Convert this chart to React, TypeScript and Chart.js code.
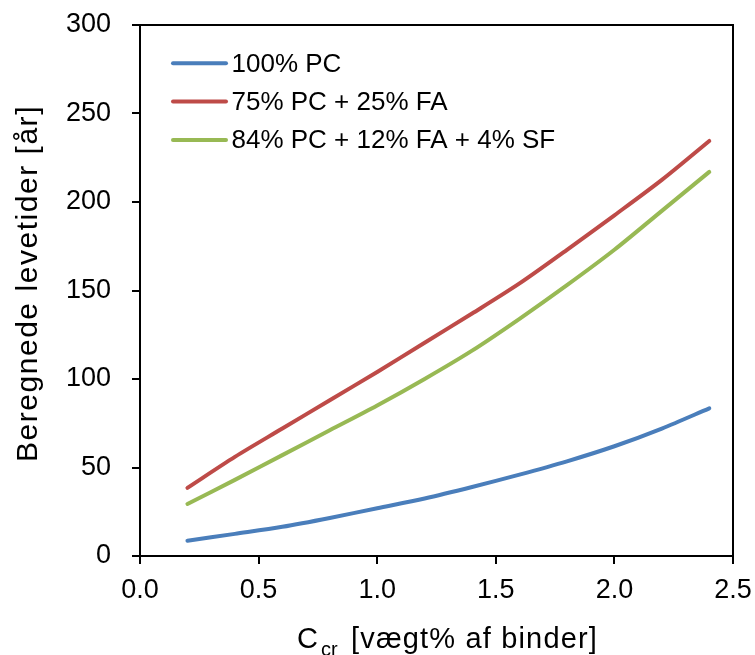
import React, { useEffect, useRef } from "react";
import { Chart, registerables } from "chart.js";

Chart.register(...registerables);

const FONT = '"Liberation Sans", Arial, Helvetica, sans-serif';

// Data
const xValues = [0.2, 0.4, 0.6, 0.8, 1.0, 1.2, 1.4, 1.6, 1.8, 2.0, 2.2, 2.4];
const pc100 = [8.6, 12.5, 16.5, 21.5, 27, 32.5, 39, 46, 53.5, 62, 72, 83.4];
const pc75fa25 = [38.5, 56, 72, 88, 104, 120.5, 137, 154, 173, 192.5, 212.5, 234.5];
const pc84fa12sf4 = [29.4, 43, 57, 71, 85, 100, 116, 134, 153, 173, 195, 217];
const seriesLabels = ["100% PC", "75% PC + 25% FA", "84% PC + 12% FA + 4% SF"];
const seriesColors = ["#4A7EBB", "#BE4B48", "#98B954"];
const yTitle = "Beregnede levetider [år]";
const xTitleMain = "C";
const xTitleSub = "cr";
const xTitleRest = "[vægt% af binder]";

const toPoints = (ys: number[]) => xValues.map((x, i) => ({ x, y: ys[i] }));

const framePlugin = {
  id: "frame",
  afterDatasetsDraw(chart: any) {
    const { ctx, chartArea } = chart;
    const { left, top, right, bottom } = chartArea;
    ctx.save();
    ctx.strokeStyle = "#000";
    ctx.lineWidth = 2;
    ctx.strokeRect(left, top, right - left, bottom - top);
    ctx.restore();
  },
};

const legendPlugin = {
  id: "insideLegend",
  afterDraw(chart: any) {
    const { ctx, chartArea } = chart;
    const { left, top } = chartArea;
    ctx.save();
    chart.data.datasets.forEach((ds: any, i: number) => {
      const y = top + 38.3 + i * 38.3;
      ctx.strokeStyle = ds.borderColor;
      ctx.lineWidth = 4;
      ctx.lineCap = "round";
      ctx.beginPath();
      ctx.moveTo(left + 33, y);
      ctx.lineTo(left + 86, y);
      ctx.stroke();
      ctx.fillStyle = "#000";
      ctx.font = `26px ${FONT}`;
      ctx.textAlign = "left";
      ctx.textBaseline = "middle";
      ctx.fillText(ds.label, left + 91.5, y + 1.4);
    });
    ctx.restore();
  },
};

const titlesPlugin = {
  id: "axisTitles",
  afterDraw(chart: any) {
    const { ctx } = chart;
    ctx.save();
    ctx.fillStyle = "#000";
    // Y title
    ctx.font = `30px ${FONT}`;
    const natural = ctx.measureText(yTitle).width;
    const targetY = 357;
    const spacing = Math.max(0, (targetY - natural) / yTitle.length);
    (ctx as any).letterSpacing = `${spacing}px`;
    ctx.translate(29, 283.5);
    ctx.rotate(-Math.PI / 2);
    ctx.textAlign = "left";
    ctx.textBaseline = "middle";
    const w = ctx.measureText(yTitle).width;
    ctx.fillText(yTitle, -w / 2, 0);
    ctx.restore();

    // X title with subscript
    ctx.save();
    ctx.fillStyle = "#000";
    ctx.textAlign = "left";
    ctx.textBaseline = "alphabetic";
    const baseY = 648;
    let x = 297;
    ctx.font = `29px ${FONT}`;
    ctx.fillText(xTitleMain, x, baseY);
    x += ctx.measureText(xTitleMain).width + 3;
    ctx.font = `20px ${FONT}`;
    ctx.fillText(xTitleSub, x, baseY + 8);
    ctx.font = `29px ${FONT}`;
    const restNatural = ctx.measureText(xTitleRest).width;
    const restStart = 351;
    const restTarget = 598 - restStart;
    (ctx as any).letterSpacing = `${Math.max(0, (restTarget - restNatural) / xTitleRest.length)}px`;
    ctx.fillText(xTitleRest, restStart, baseY);
    ctx.restore();
  },
};

export default function App() {
  const canvasRef = useRef<HTMLCanvasElement | null>(null);

  useEffect(() => {
    if (!canvasRef.current) return;
    const chart = new Chart(canvasRef.current, {
      type: "line",
      data: {
        datasets: [pc100, pc75fa25, pc84fa12sf4].map((ys, i) => ({
          label: seriesLabels[i],
          data: toPoints(ys),
          borderColor: seriesColors[i],
          backgroundColor: seriesColors[i],
          borderWidth: 4,
          borderCapStyle: "round" as const,
          borderJoinStyle: "round" as const,
          pointRadius: 0,
          pointHoverRadius: 0,
          tension: 0.3,
          fill: false,
        })),
      },
      options: {
        responsive: false,
        animation: false,
        devicePixelRatio: 1,
        layout: { padding: { top: 25, right: 22, left: 0, bottom: 0 } },
        plugins: {
          legend: { display: false },
          tooltip: { enabled: false },
          title: { display: false },
        },
        scales: {
          x: {
            type: "linear",
            min: 0,
            max: 2.5,
            afterFit: (s: any) => {
              s.height = 99;
              s.paddingLeft = 0;
              s.paddingRight = 0;
            },
            ticks: {
              stepSize: 0.5,
              color: "#000",
              font: { family: FONT, size: 27 },
              padding: 10,
              maxRotation: 0,
              autoSkip: false,
              callback: (v: any) => Number(v).toFixed(1),
            },
            grid: {
              drawOnChartArea: false,
              drawTicks: true,
              tickLength: 8,
              color: "#000",
              lineWidth: 2,
            },
            border: { display: true, color: "#000", width: 2 },
          },
          y: {
            type: "linear",
            min: 0,
            max: 300,
            afterFit: (s: any) => {
              s.width = 140;
              s.paddingTop = 0;
              s.paddingBottom = 0;
            },
            ticks: {
              stepSize: 50,
              color: "#000",
              font: { family: FONT, size: 27 },
              padding: 21,
            },
            grid: {
              drawOnChartArea: false,
              drawTicks: true,
              tickLength: 8,
              color: "#000",
              lineWidth: 2,
            },
            border: { display: true, color: "#000", width: 2 },
          },
        },
      },
      plugins: [framePlugin, legendPlugin, titlesPlugin],
    });
    return () => chart.destroy();
  }, []);

  return (
    <div
      style={{
        position: "fixed",
        left: 0,
        top: 0,
        width: 755,
        height: 655,
        background: "#fff",
      }}
    >
      <canvas ref={canvasRef} width={755} height={655} style={{ width: 755, height: 655, display: "block" }} />
    </div>
  );
}
